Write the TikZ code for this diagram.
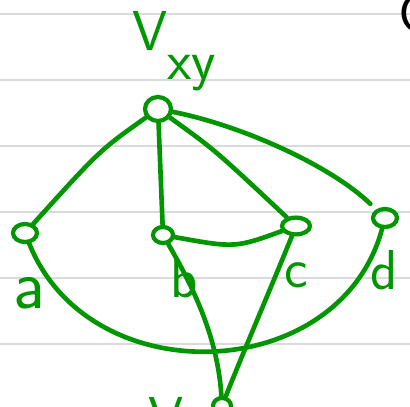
\documentclass[tikz,border=0pt]{standalone}
\usepackage{tikz}
\usetikzlibrary{shapes.geometric}

\definecolor{pengreen}{RGB}{0,150,0}
\definecolor{rulegray}{RGB}{218,218,218}

\begin{document}
\begin{tikzpicture}[
    x=0.025cm, y=-0.025cm,
    rule/.style={draw=rulegray, line width=1.4pt},
    vtx/.style={draw=pengreen, line width=3pt, ellipse, inner sep=0pt,
                minimum width=0.6cm, minimum height=0.45cm},
    link/.style={draw=pengreen, line width=3.3pt, line cap=round},
    lbl/.style={text=pengreen, font=\fontsize{40}{40}\selectfont\sffamily,
                inner sep=0pt, anchor=base west}
]
    \useasboundingbox (0,0) rectangle (410,407);
    \fill[white] (0,0) rectangle (410,407);
    \foreach \y in {14,80,146,212,278,344}
        \draw[rule] (0,\y) -- (410,\y);

    % vertices
    \node[vtx, minimum width=0.65cm, minimum height=0.6cm] (vxy) at (158,109) {};
    \node[vtx] (a) at (25,233) {};
    \node[vtx, minimum width=0.5cm, minimum height=0.4cm] (b) at (163,235) {};
    \node[vtx, minimum width=0.7cm, minimum height=0.42cm] (c) at (296,226) {};
    \node[vtx] (d) at (385,218) {};
    \node[vtx, minimum width=0.45cm, minimum height=0.4cm] (e) at (222,406) {};

    % labels
    \node[lbl] (vxylbl) at (132,51) {V\raisebox{-0.5em}{xy}};
    \node[lbl, font=\fontsize{50}{50}\selectfont\sffamily] (albl) at (13,309) {a};
    \node[lbl] (blbl) at (170,298) {b};
    \node[lbl] (clbl) at (284,288) {c};
    \node[lbl] (dlbl) at (370,290) {d};
    \node[lbl] (elbl) at (148,437) {V};
    \node[lbl, text=black] (corner) at (398,33) {C};

    % edges
    \draw[link] (vxy) .. controls (100,150) .. (a);
    \draw[link] (vxy) -- (b);
    \draw[link] (vxy) .. controls (215,150) .. (c);
    \draw[link, shorten >=0.2cm] (vxy) .. controls (240,125) and (330,165) .. (d);
    \draw[link] (b) .. controls (235,248) .. (c);
    \draw[link] (a) .. controls (90,395) and (340,385) .. (d);
    \draw[link] (b) .. controls (195,290) and (218,340) .. (e);
    \draw[link] (c) .. controls (270,290) and (240,360) .. (e);
\end{tikzpicture}
\end{document}
